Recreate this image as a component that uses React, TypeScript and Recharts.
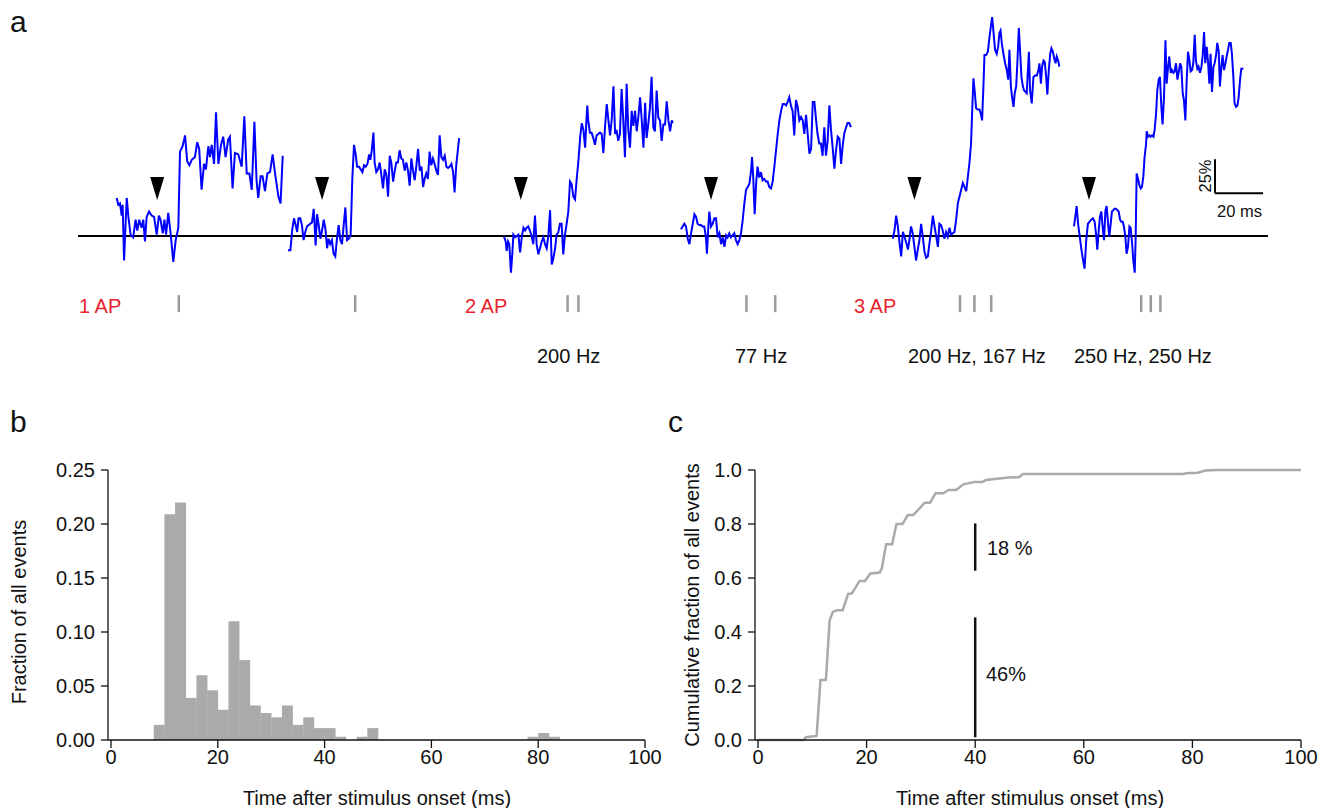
import React from 'react';
import {Bar, ComposedChart, Line, ReferenceLine, Scatter, XAxis, YAxis} from 'recharts';

const FONT = '"Liberation Sans", Arial, Helvetica, sans-serif';

// panel a: single sweeps, [time in sweep (ms), dF/F (%)]
const trace1: [number, number][] = [
	[0, 28], [0.7, 23], [1.4, 24], [2.1, 15], [2.5, 23], [3.1, -18], [3.8, 12], [4.2, 28], [4.9, 14], [5.8, 1],
	[6.9, -1], [7.9, 12], [8.6, 4], [9.4, 12], [10.4, 6], [11.1, 12], [11.8, -4], [12.5, 14], [13.5, 18], [14.6, 15],
	[15.6, 14], [16.7, 1], [17.6, 15], [18.3, 12], [19.2, 2], [19.9, 12], [20.6, 1], [21.5, 17], [22.5, 2], [23.6, -19],
	[24.6, -3], [25.7, 6], [26.4, 62], [27.5, 66], [28.5, 74], [29.4, 55], [30.3, 52], [31.3, 56], [32.6, 58], [33.6, 69],
	[34.4, 64], [35.4, 34], [36.4, 53], [37.2, 49], [38.2, 66], [38.9, 58], [39.6, 67], [40.6, 53], [41.4, 91], [42.4, 53],
	[43.5, 67], [44.4, 73], [45.4, 58], [46.5, 71], [47.2, 73], [48.3, 35], [49.3, 61], [50.7, 60], [52.1, 51], [53.2, 88],
	[54.2, 46], [55.3, 46], [56.3, 34], [57.4, 84], [58.3, 41], [59.0, 28], [60.0, 44], [60.8, 44], [61.8, 33], [62.8, 46],
	[63.9, 47], [65.0, 60], [66.0, 46], [67.4, 29], [68.3, 24], [69.2, 59],
];
const trace2: [number, number][] = [
	[0, -10.5], [1, -10.5], [1.8, 5], [2.5, 13], [3.2, 8], [3.8, 3], [4.4, 13], [5.1, 13], [5.8, 8], [6.5, -3],
	[7.2, 3], [7.9, 7], [8.6, 8], [9.3, 9], [10, 10], [10.7, 20], [11.1, 8], [11.5, -7], [12.1, 16], [12.8, 8],
	[13.5, -2], [14.2, 4], [14.9, 12], [15.6, 5], [16.3, -9], [16.9, -2], [17.6, -6], [18.3, -3], [19, -13], [19.7, -15],
	[20.4, -2], [21.1, 8], [21.8, -3], [22.5, -6], [23.2, 8], [23.9, 21], [24.6, -3], [25.3, -2], [26.1, 0.5], [26.8, 42],
	[27.5, 67], [28.2, 60], [28.8, 51], [29.6, 51], [30.3, 49], [31, 47], [31.7, 52], [32.4, 51], [33.1, 53], [33.8, 60],
	[34.3, 56], [34.9, 63], [35.6, 76], [36.1, 54], [36.8, 47], [37.5, 49], [38.2, 54], [38.9, 45], [39.6, 35], [40.3, 49],
	[41, 45], [41.7, 29], [42.4, 59], [43.1, 53], [43.8, 40], [44.4, 47], [45.1, 54], [45.8, 54], [46.5, 63], [47.2, 57],
	[47.9, 56], [48.6, 48], [49.3, 54], [50, 48], [50.7, 37], [51.4, 57], [52.1, 48], [52.8, 41], [53.5, 52], [54.2, 64],
	[54.9, 48], [55.6, 51], [56.3, 36], [56.9, 42], [57.6, 46], [58.3, 42], [59, 62], [59.7, 52], [60.4, 57], [61.1, 53],
	[61.8, 48], [62.5, 45], [63.2, 74], [63.9, 58], [64.6, 56], [65.3, 59], [66, 51], [66.7, 50], [67.4, 51], [68.1, 53],
	[68.8, 47], [69.4, 32], [70.1, 52], [71.3, 72],
];
const trace3: [number, number][] = [
	[0, -0.5], [0.7, -4], [1.1, -11], [1.7, -4], [2.2, -6], [2.9, -27], [3.5, -12], [3.9, 1], [4.6, -1], [5.3, 0],
	[6, 1], [6.7, -12], [7.4, -1], [8.1, 6], [8.8, 4], [9.4, 6], [10.1, 7], [10.8, 4], [11.5, 0], [12.2, -6],
	[12.9, 15], [13.6, -6], [14.3, -13.5], [15, -9], [15.7, -4], [16.4, -1], [17.1, -6], [17.8, -9], [18.5, 1], [19.2, 19],
	[19.9, -21], [20.6, -16], [21.3, -9], [21.9, 1], [22.6, 2.5], [23.3, 9], [24, 9], [24.7, -13.5], [25.4, 1], [26.1, 9],
	[26.8, 18], [27.5, 40], [28.2, 38], [28.9, 29], [29.6, 27], [30.3, 42], [31, 55], [31.7, 72], [32.4, 83], [33.1, 78],
	[33.8, 65], [34.4, 87], [34.7, 96], [35.1, 85], [35.8, 76], [36.5, 76], [37.2, 72], [37.9, 67], [38.6, 74], [39.3, 75],
	[40, 76], [40.7, 75], [41.4, 61], [42.1, 80], [42.8, 97], [43.5, 85], [44.2, 74], [44.9, 86], [45.6, 110], [46.3, 75],
	[46.9, 78], [47.6, 70], [48.3, 75], [49, 108], [49.7, 85], [50.4, 58], [51.1, 112], [51.8, 78], [52.5, 65], [53.2, 92],
	[53.9, 81], [54.6, 92], [55.3, 77], [56, 88], [56.7, 102], [57.4, 85], [58.1, 65], [58.8, 98], [59.4, 72], [60.1, 82],
	[60.8, 94], [61.5, 117], [62.2, 80], [62.9, 77], [63.6, 107], [64.3, 87], [65, 85], [65.7, 70], [66.4, 82], [67.1, 82],
	[67.8, 99], [68.5, 85], [69.2, 77], [69.9, 85], [70.3, 83],
];
const trace4: [number, number][] = [
	[0, 5], [0.7, 7], [1.4, 9], [2.1, 7], [2.8, -2], [3.5, -6], [4.2, 2], [4.9, 9], [5.6, 16], [6.3, 14],
	[6.9, 9], [7.6, 8], [8.3, 8], [9, 7], [9.7, 7], [10.4, -1], [10.8, -13], [11.4, 7], [11.8, 18], [12.5, 7],
	[13.2, 9], [13.9, 13], [14.6, 13], [15.3, -1], [16, 2], [16.7, -6], [17.4, -1], [18.1, -8], [18.8, 0.5], [19.4, -1],
	[20.1, 2], [20.8, -1], [21.5, 0.5], [22.2, 2], [22.9, -3], [23.6, -6], [24.3, -3], [25, 2], [25.7, 11.5], [26.4, 24],
	[27.1, 34], [27.8, 36], [28.5, 38.5], [29.2, 48], [29.6, 58], [30.1, 43], [30.7, 16], [31.3, 38.5], [31.9, 51], [32.6, 43],
	[33.3, 47], [34, 41], [34.7, 42], [35.4, 40], [36.1, 40], [36.8, 36], [37.5, 35], [38.2, 40], [38.9, 51], [39.6, 63],
	[40.3, 75], [41, 85], [41.7, 92], [42.4, 97], [43.1, 97], [43.8, 96], [44.4, 98.5], [45.1, 102], [45.8, 96], [46.5, 92],
	[47.2, 74], [47.9, 100], [48.6, 95], [49.3, 85], [50, 87.5], [50.7, 85], [51.4, 75], [52.1, 89], [52.8, 75], [53.5, 60.5],
	[54.2, 64], [54.9, 98.5], [55.6, 98.5], [56.3, 85], [56.9, 75], [57.6, 68], [58.3, 68], [59, 59], [59.7, 80], [60.4, 59],
	[61.1, 70], [61.8, 96], [62.5, 78], [63.2, 65], [63.9, 49.5], [64.6, 63], [65.3, 73], [66, 71.5], [66.7, 53], [67.4, 67],
	[68.1, 76], [68.8, 80], [69.4, 83], [70.1, 83], [70.8, 80],
];
const trace5: [number, number][] = [
	[0, -2], [0.7, 4], [1.4, 15], [2.1, 7], [2.8, -5], [3.5, -15], [4.2, 3], [4.9, -0.5], [5.6, -5], [6.3, -10],
	[6.9, -3], [7.6, 7], [8.3, 2], [9, -8], [9.7, -18], [10.4, -10], [11.1, -3], [11.8, 9], [12.5, -0.5], [13.2, -11.5],
	[13.9, -16], [14.6, -15], [15.3, -5], [16, 4], [16.7, 15], [17.4, 7], [18.1, -0.5], [18.8, -8], [19.4, 9], [20.1, 8],
	[20.8, 4], [21.5, -2], [22.2, 3], [22.9, -0.5], [23.6, 6], [24.3, 1], [25, 2], [25.7, 3], [26.4, 12], [27.1, 24],
	[27.8, 29], [28.5, 34], [29.2, 39], [29.9, 36], [30.6, 33], [31.3, 44], [31.9, 53], [32.6, 68], [33.1, 93], [33.6, 116],
	[34.2, 105], [34.7, 94], [35.4, 93], [36.1, 93], [36.8, 89], [37.2, 85], [37.8, 112], [38.2, 133], [38.9, 133], [39.6, 135.5],
	[40.3, 146.5], [41, 156], [41.4, 161], [41.9, 151], [42.6, 137], [43.3, 134], [43.9, 139], [44.4, 149], [44.9, 151], [45.4, 142],
	[46.1, 134], [46.8, 127], [47.5, 122], [48.1, 115], [48.6, 137], [49.2, 110], [49.7, 102], [50.3, 95], [50.8, 105], [51.4, 110],
	[51.9, 127], [52.5, 153], [53.1, 134], [53.6, 117], [54.2, 110], [54.7, 107], [55.3, 106], [55.8, 105], [56.7, 135.5], [57.2, 107],
	[57.9, 97.5], [58.6, 117], [59.3, 118], [60, 118], [60.7, 122], [61.1, 127], [61.7, 112], [62.2, 124.5], [62.8, 129], [63.3, 128],
	[63.9, 117], [64.4, 104], [65, 122], [65.6, 134], [66.1, 138], [66.7, 135.5], [67.2, 131], [67.8, 127], [68.3, 132], [68.9, 129],
	[69.4, 124.5],
];
const trace6: [number, number][] = [
	[0, 7], [0.6, 15], [1.1, 22], [1.7, 9], [2.4, -0.5], [3.1, -10], [3.8, -18], [4.4, -24], [5.1, -3], [5.8, 9],
	[6.5, 10.5], [7.2, 12], [7.9, 13], [8.6, 10.5], [9.3, -0.5], [9.7, -10], [10.3, 4], [10.8, 14], [11.4, 18], [11.9, 7],
	[12.5, -3], [13.1, 19], [13.6, 22], [14.2, 9], [14.7, -0.5], [15.3, 9], [15.8, 18], [16.4, 19], [16.9, 20], [17.5, 20],
	[18.1, 19], [18.6, 18], [19.2, 12], [19.7, 10.5], [20.3, 10.5], [20.8, 7], [21.4, -0.5], [21.9, -13], [22.5, -8], [23.1, 7],
	[23.6, 6], [24.2, -5], [24.7, -18], [25.3, -27], [25.7, -0.5], [26.1, 46], [26.7, 42], [27.2, 37.5], [27.8, 35], [28.3, 36],
	[28.9, 44], [29.4, 58], [30, 67], [30.3, 77], [30.8, 73], [31.4, 74], [31.9, 73], [32.5, 74], [33.1, 73], [33.6, 78],
	[34.2, 90], [34.7, 107], [35.3, 115], [35.8, 117], [36.4, 95], [36.9, 82], [37.5, 102], [38.1, 144], [38.6, 112], [39.2, 124.5],
	[39.7, 132], [40.3, 120], [40.8, 122], [41.4, 120], [41.9, 121], [42.5, 127], [43.1, 115], [43.6, 120], [44.2, 127], [44.7, 124.5],
	[45.3, 105], [45.8, 100], [46.4, 85], [46.9, 112], [47.5, 135.5], [48.1, 129], [48.6, 121], [49.2, 122], [49.7, 127], [50.3, 148],
	[50.8, 129], [51.4, 123], [51.9, 124.5], [52.5, 120], [53.1, 124.5], [53.6, 132], [54.2, 150], [54.7, 127], [55.3, 139], [55.8, 129],
	[56.4, 112], [56.9, 134], [57.5, 106], [58.1, 124.5], [58.6, 127], [59.2, 133], [59.7, 142], [60.3, 135.5], [60.8, 110], [61.4, 124.5],
	[61.9, 133], [62.5, 122], [63.1, 127], [63.6, 132], [64.2, 137], [64.7, 142], [65.3, 142], [65.8, 134], [66.4, 117], [66.9, 97.5],
	[67.5, 95], [68.1, 96], [68.6, 102], [69.2, 115], [69.7, 123], [70.6, 123],
];
const sweeps = [trace1, trace2, trace3, trace4, trace5, trace6];
const sweepStarts = [16.1, 87.5, 177.5, 251.25, 339.5, 415]; // ms on the shared time line
const stimulusTimes = [33, 101.7, 184.5, 263.75, 348.5, 421.25];
const markerLevel = 26.5; // % (tip of the arrowheads)
const spikeTimes = [42, 115.5, 204, 208.5, 278.5, 290.5, 367.5, 373.5, 380.5, 443, 447, 451];
const spikeRow = [-43.5, -56]; // %
const baselineEnd = 495.8;
const scaleBar = {t: 473.75, v: 31.5, dt: 20, dv: 25};
const apLabels = ['1 AP', '2 AP', '3 AP'];
const rateLabels = ['200 Hz', '77 Hz', '200 Hz, 167 Hz', '250 Hz, 250 Hz'];

// panel b: latency histogram, 2 ms bins
const binCenters = [9, 11, 13, 15, 17, 19, 21, 23, 25, 27, 29, 31, 33, 35, 37, 39, 41, 43, 45, 47, 49,
	51, 53, 55, 57, 59, 61, 63, 65, 67, 69, 71, 73, 75, 77, 79, 81, 83];
const binFractions = [0.014, 0.209, 0.22, 0.039, 0.06, 0.046, 0.028, 0.11, 0.074, 0.032, 0.025, 0.021, 0.032, 0.014, 0.021, 0.011, 0.011, 0.003, 0, 0.003, 0.011,
	0, 0, 0, 0, 0, 0, 0, 0, 0, 0, 0, 0, 0, 0, 0.003, 0.0065, 0.003];

// panel c: cumulative fraction
const cdfTimes = [0, 8.4, 8.8, 10.8, 11.5, 12.5, 13.2, 13.8, 14.6, 15.6, 16.6, 17.3, 18.7, 19.7, 20.7, 22.4, 22.8, 23.6, 24.7, 25.5,
	26.6, 27.6, 28.6, 30.7, 31.7, 32.7, 34.1, 35.1, 36.5, 37.8, 39.9, 41.3, 42, 44, 46.1, 48.1, 48.8, 78.3, 78.9, 81, 82.4, 84.4, 100];
const cdfValues = [0, 0, 0.01, 0.015, 0.222, 0.222, 0.444, 0.475, 0.481, 0.481, 0.541, 0.543, 0.589, 0.589, 0.617, 0.62, 0.636, 0.725, 0.725, 0.8,
	0.8, 0.833, 0.833, 0.879, 0.879, 0.914, 0.914, 0.926, 0.926, 0.947, 0.956, 0.956, 0.963, 0.968, 0.972, 0.973, 0.985, 0.985, 0.988, 0.99, 0.998, 1, 1];
const fractionBars = [{t: 40, from: 0.627, to: 0.802, label: '18 %'}, {t: 40, from: 0.01, to: 0.454, label: '46%'}];

const timeTicks = [0, 20, 40, 60, 80, 100];
const histTicks = [0, 0.05, 0.1, 0.15, 0.2, 0.25];
const cdfTicks = [0, 0.2, 0.4, 0.6, 0.8, 1];

const INK = '#111';
const tickStyle = {fontSize: 20, fill: INK, fontFamily: FONT};
const axisStyle = {stroke: INK, strokeWidth: 1.3};

const Arrowhead = (props: any) => {
	const {cx, cy} = props;
	return <polygon points={`${cx - 7},${cy - 23} ${cx + 7},${cy - 23} ${cx},${cy}`} fill="#000"/>;
};

export default function App() {
	const sweepData = sweeps.map((s, i) => s.map(([t, v]) => ({t: t + sweepStarts[i], v})));
	const arrowData = stimulusTimes.map(t => ({t, v: markerLevel}));
	const histData = binCenters.map((t, i) => ({t, f: binFractions[i]}));
	const cdfData = cdfTimes.map((t, i) => ({t, c: cdfValues[i]}));

	return <div style={{position: 'absolute', left: 0, top: 0, width: 1322, height: 808, background: '#fff', fontFamily: FONT}}>
		<div style={{position: 'absolute', left: 0, top: 0}}>
			<ComposedChart width={1322} height={330} margin={{top: 4.8, right: 44, left: 78, bottom: 12.4}}>
				<XAxis type="number" dataKey="t" domain={[0, 500]} hide allowDataOverflow/>
				<YAxis type="number" domain={[-60, 170]} hide allowDataOverflow/>
				<ReferenceLine segment={[{x: 0, y: 0}, {x: baselineEnd, y: 0}]} stroke="#000" strokeWidth={2}/>
				{sweepData.map((d, i) =>
					<Line key={i} data={d} dataKey="v" type="linear" stroke="#0000ff" strokeWidth={2}
						dot={false} isAnimationActive={false}/>)}
				<Scatter data={arrowData} dataKey="v" shape={Arrowhead} isAnimationActive={false}/>
				{spikeTimes.map((t, i) =>
					<ReferenceLine key={'s' + i} segment={[{x: t, y: spikeRow[0]}, {x: t, y: spikeRow[1]}]}
						stroke="#999" strokeWidth={2.5}/>)}
				<ReferenceLine segment={[{x: scaleBar.t, y: scaleBar.v}, {x: scaleBar.t, y: scaleBar.v + scaleBar.dv}]}
					stroke="#000" strokeWidth={2}/>
				<ReferenceLine segment={[{x: scaleBar.t, y: scaleBar.v}, {x: scaleBar.t + scaleBar.dt, y: scaleBar.v}]}
					stroke="#000" strokeWidth={2}/>
			</ComposedChart>
		</div>

		<div style={{position: 'absolute', left: 0, top: 450}}>
			<ComposedChart width={680} height={358} data={histData} barCategoryGap={0} barGap={0}
				margin={{top: 20, right: 35, left: 48, bottom: 28}}>
				<XAxis type="number" dataKey="t" domain={[0, 100]} ticks={timeTicks} interval={0}
					padding={{left: 3, right: 0}} tick={tickStyle} axisLine={axisStyle} tickLine={axisStyle}
					tickSize={8} tickMargin={2} height={40}/>
				<YAxis type="number" domain={[0, 0.25]} ticks={histTicks} interval={0} width={60}
					tickFormatter={(v: number) => v.toFixed(2)} tick={tickStyle} axisLine={axisStyle}
					tickLine={axisStyle} tickSize={7} tickMargin={6}/>
				<Bar dataKey="f" fill="#aaaaaa" isAnimationActive={false}/>
			</ComposedChart>
		</div>

		<div style={{position: 'absolute', left: 660, top: 450}}>
			<ComposedChart width={662} height={358} data={cdfData}
				margin={{top: 20, right: 21, left: 35, bottom: 28}}>
				<XAxis type="number" dataKey="t" domain={[0, 100]} ticks={timeTicks} interval={0}
					padding={{left: 3, right: 0}} tick={tickStyle} axisLine={axisStyle} tickLine={axisStyle}
					tickSize={8} tickMargin={2} height={40}/>
				<YAxis type="number" domain={[0, 1]} ticks={cdfTicks} interval={0} width={60}
					tickFormatter={(v: number) => v.toFixed(1)} tick={tickStyle} axisLine={axisStyle}
					tickLine={axisStyle} tickSize={7} tickMargin={6}/>
				<Line dataKey="c" type="linear" stroke="#aaaaaa" strokeWidth={2.5} dot={false} isAnimationActive={false}/>
				{fractionBars.map((b, i) =>
					<ReferenceLine key={i} segment={[{x: b.t, y: b.from}, {x: b.t, y: b.to}]} stroke="#111" strokeWidth={2.5}/>)}
			</ComposedChart>
		</div>

		<svg width={1322} height={808} style={{position: 'absolute', left: 0, top: 0, pointerEvents: 'none'}}
			fontFamily={FONT}>
			<text x={10} y={32} fontSize={30} fill={INK}>a</text>
			<text x={10} y={432} fontSize={30} fill={INK}>b</text>
			<text x={668} y={432} fontSize={30} fill={INK}>c</text>

			<text x={79} y={313} fontSize={20} fill="#e8212b">{apLabels[0]}</text>
			<text x={465} y={313} fontSize={20} fill="#e8212b">{apLabels[1]}</text>
			<text x={854} y={313} fontSize={20} fill="#e8212b">{apLabels[2]}</text>
			<text x={537} y={363} fontSize={20} fill={INK}>{rateLabels[0]}</text>
			<text x={735} y={363} fontSize={20} fill={INK}>{rateLabels[1]}</text>
			<text x={908} y={363} fontSize={20} fill={INK}>{rateLabels[2]}</text>
			<text x={1074} y={363} fontSize={20} fill={INK}>{rateLabels[3]}</text>

			<text x={1211} y={176} fontSize={16.5} fill={INK} textAnchor="middle" transform="rotate(-90 1211 176)">25%</text>
			<text x={1217} y={217} fontSize={16.5} fill={INK}>20 ms</text>

			<text x={987} y={555} fontSize={20} fill={INK}>{fractionBars[0].label}</text>
			<text x={986} y={681} fontSize={20} fill={INK}>{fractionBars[1].label}</text>

			<text x={26} y={612} fontSize={20} fill={INK} textAnchor="middle" transform="rotate(-90 26 612)">Fraction of all events</text>
			<text x={699} y={605} fontSize={20} fill={INK} textAnchor="middle" transform="rotate(-90 699 605)">Cumulative fraction of all events</text>
			<text x={377} y={805} fontSize={20} fill={INK} textAnchor="middle">Time after stimulus onset (ms)</text>
			<text x={1030} y={805} fontSize={20} fill={INK} textAnchor="middle">Time after stimulus onset (ms)</text>
		</svg>
	</div>;
}
